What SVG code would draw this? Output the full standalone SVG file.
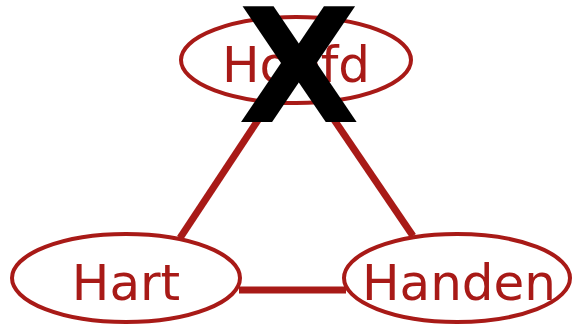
<svg xmlns="http://www.w3.org/2000/svg" width="574" height="325" viewBox="0 0 574 325">
<style>
.node ellipse{fill:#fff;stroke:#A81A17;stroke-width:4}
.node text{font-family:"DejaVu Sans",sans-serif;font-size:50px;fill:#A81A17;text-anchor:middle}
.edge{stroke:#A81A17;stroke-width:7;fill:none}
.cross{font-family:"DejaVu Sans",sans-serif;font-weight:bold;font-size:158px;fill:#000;text-anchor:middle}
</style>
<rect width="574" height="325" fill="#fff"/>
<g id="connectors">
<line class="edge" x1="180" y1="238" x2="270" y2="102"/>
<line class="edge" x1="413" y1="236" x2="322" y2="102"/>
<line class="edge" x1="239" y1="290" x2="346" y2="290"/>
</g>
<g id="hoofd" class="node">
<ellipse cx="296" cy="60" rx="115" ry="43"/>
<text x="296" y="82">Hoofd</text>
</g>
<g id="hart" class="node">
<ellipse cx="126" cy="278" rx="114" ry="44"/>
<text x="126" y="300">Hart</text>
</g>
<g id="handen" class="node">
<ellipse cx="457" cy="278" rx="113" ry="44"/>
<text x="459" y="300">Handen</text>
</g>
<text class="cross" x="299" y="122">X</text>
</svg>
